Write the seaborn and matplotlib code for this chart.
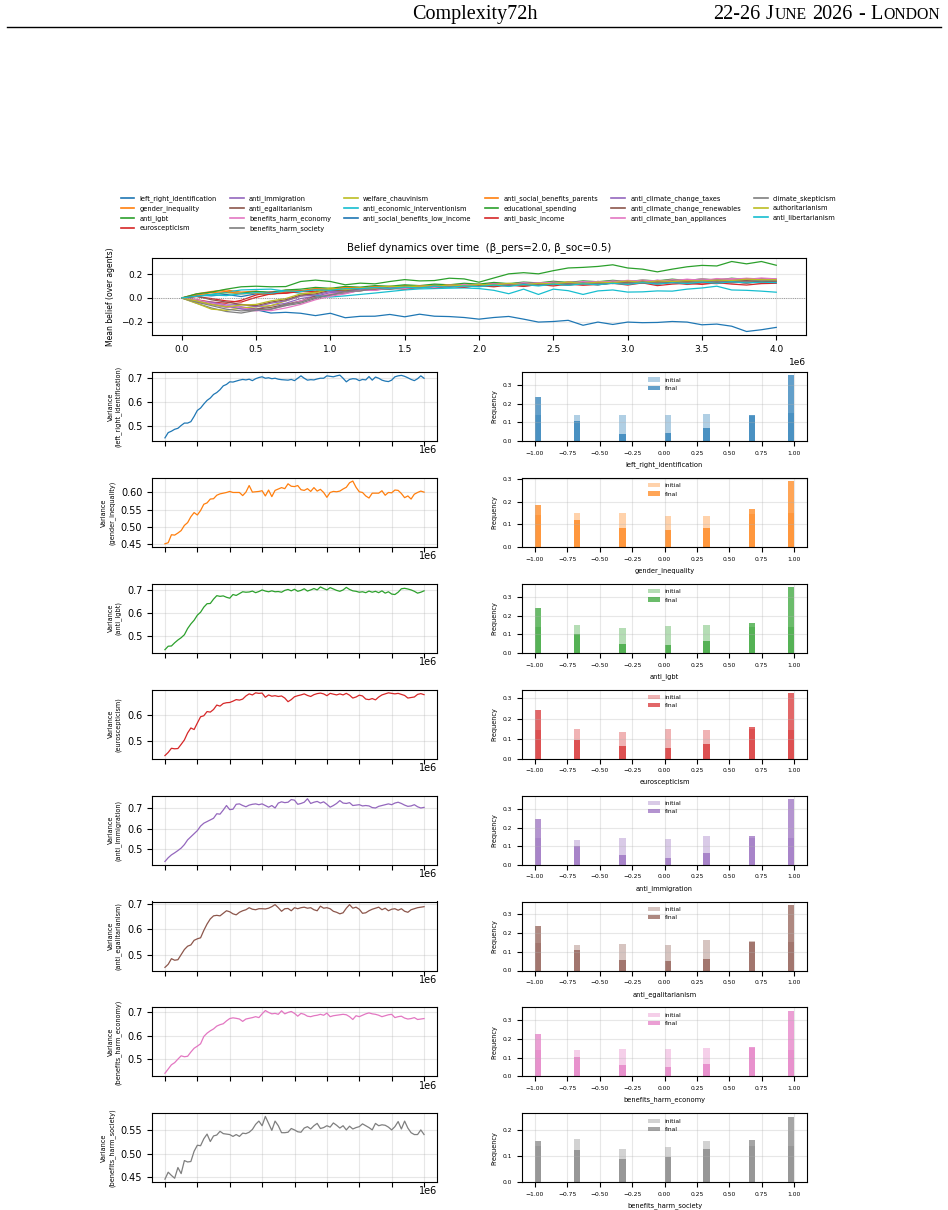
import numpy as np
import pandas as pd
import matplotlib
matplotlib.use("Agg")
import matplotlib.pyplot as plt
import matplotlib.ticker as mticker
from matplotlib.lines import Line2D
import seaborn as sns

# belief dimensions (order used by the legend / colour cycle)
belief_names = [
    "left_right_identification", "gender_inequality", "anti_lgbt", "euroscepticism",
    "anti_immigration", "anti_egalitarianism", "benefits_harm_economy", "benefits_harm_society",
    "welfare_chauvinism", "anti_economic_interventionism", "anti_social_benefits_low_income",
    "anti_social_benefits_parents", "educational_spending", "anti_basic_income",
    "anti_climate_change_taxes", "anti_climate_change_renewables", "anti_climate_ban_appliances",
    "climate_skepticism", "authoritarianism", "anti_libertarianism",
]

# mean belief over agents, sampled every 1e5 steps (0 .. 4e6)
t_mean = np.linspace(0, 4e6, 41)
mean_left_right = [0, 0.025, 0.018, 0.03, 0.012, 0.035, 0.03, 0.052, 0.06, 0.058, 0.075, 0.09, 0.078, 0.095, 0.088, 0.10, 0.092, 0.108, 0.104, 0.115, 0.108, 0.12, 0.112, 0.118, 0.128, 0.12, 0.132, 0.126, 0.138, 0.128, 0.142, 0.134, 0.145, 0.138, 0.15, 0.14, 0.155, 0.148, 0.16, 0.15, 0.145]
mean_gender = [0, 0.035, 0.055, 0.068, 0.05, 0.058, 0.04, 0.065, 0.062, 0.08, 0.072, 0.092, 0.08, 0.098, 0.092, 0.105, 0.095, 0.11, 0.1, 0.118, 0.108, 0.125, 0.11, 0.124, 0.118, 0.13, 0.122, 0.135, 0.12, 0.138, 0.128, 0.14, 0.13, 0.142, 0.128, 0.145, 0.132, 0.14, 0.128, 0.138, 0.134]
mean_lgbt = [0, 0.015, 0.03, 0.045, 0.04, 0.055, 0.05, 0.068, 0.075, 0.09, 0.082, 0.098, 0.092, 0.105, 0.1, 0.112, 0.105, 0.118, 0.112, 0.125, 0.118, 0.132, 0.122, 0.135, 0.128, 0.142, 0.132, 0.145, 0.138, 0.15, 0.14, 0.152, 0.145, 0.16, 0.148, 0.162, 0.152, 0.168, 0.158, 0.165, 0.16]
mean_euro = [0, -0.015, -0.035, -0.045, -0.02, 0.025, 0.05, 0.042, 0.06, 0.055, 0.075, 0.068, 0.085, 0.092, 0.08, 0.098, 0.09, 0.102, 0.095, 0.11, 0.098, 0.112, 0.102, 0.118, 0.108, 0.12, 0.11, 0.125, 0.112, 0.13, 0.118, 0.135, 0.12, 0.132, 0.115, 0.128, 0.122, 0.138, 0.126, 0.142, 0.134]
mean_immigration = [0, -0.035, -0.055, -0.08, -0.075, -0.095, -0.065, -0.045, -0.005, 0.015, 0.045, 0.052, 0.075, 0.07, 0.09, 0.085, 0.1, 0.092, 0.11, 0.098, 0.115, 0.108, 0.118, 0.112, 0.128, 0.118, 0.135, 0.128, 0.14, 0.13, 0.145, 0.135, 0.15, 0.138, 0.155, 0.142, 0.158, 0.148, 0.16, 0.15, 0.148]
mean_egal = [0, -0.025, -0.045, -0.07, -0.085, -0.095, -0.08, -0.055, -0.025, 0.015, 0.025, 0.055, 0.06, 0.08, 0.075, 0.095, 0.09, 0.105, 0.098, 0.11, 0.105, 0.12, 0.112, 0.122, 0.115, 0.13, 0.122, 0.132, 0.125, 0.14, 0.132, 0.142, 0.135, 0.15, 0.138, 0.148, 0.142, 0.155, 0.145, 0.16, 0.148]
mean_harm_econ = [0, -0.02, -0.055, -0.075, -0.095, -0.11, -0.095, -0.065, -0.025, 0.005, 0.035, 0.045, 0.065, 0.068, 0.085, 0.08, 0.095, 0.102, 0.098, 0.115, 0.108, 0.12, 0.115, 0.13, 0.122, 0.135, 0.128, 0.14, 0.132, 0.145, 0.138, 0.152, 0.142, 0.155, 0.148, 0.162, 0.152, 0.165, 0.158, 0.17, 0.162]
mean_harm_soc = [0, -0.045, -0.085, -0.115, -0.128, -0.105, -0.095, -0.065, -0.045, -0.005, 0.025, 0.04, 0.065, 0.068, 0.08, 0.075, 0.09, 0.085, 0.102, 0.092, 0.105, 0.1, 0.115, 0.102, 0.112, 0.12, 0.108, 0.125, 0.112, 0.128, 0.12, 0.13, 0.118, 0.135, 0.122, 0.132, 0.14, 0.128, 0.138, 0.125, 0.13]
mean_welfare = [0, -0.045, -0.095, -0.105, -0.085, -0.075, -0.065, -0.025, 0.015, 0.055, 0.085, 0.07, 0.085, 0.08, 0.095, 0.09, 0.105, 0.1, 0.108, 0.102, 0.112, 0.105, 0.12, 0.112, 0.118, 0.125, 0.115, 0.128, 0.122, 0.135, 0.128, 0.14, 0.132, 0.145, 0.135, 0.148, 0.14, 0.152, 0.145, 0.155, 0.15]
mean_econ_interv = [0.0, 0.02, 0.03, 0.05, 0.068, 0.072, 0.075, 0.058, 0.04, 0.02, 0.008, 0.018, 0.03, 0.042, 0.055, 0.068, 0.077, 0.08, 0.083, 0.085, 0.08, 0.065, 0.036, 0.075, 0.03, 0.075, 0.062, 0.03, 0.06, 0.068, 0.05, 0.052, 0.06, 0.058, 0.075, 0.085, 0.1, 0.068, 0.065, 0.058, 0.049]
mean_low_income = [0.0, -0.02, -0.045, -0.065, -0.09, -0.10, -0.128, -0.122, -0.13, -0.15, -0.13, -0.168, -0.156, -0.155, -0.14, -0.16, -0.138, -0.155, -0.158, -0.166, -0.18, -0.166, -0.157, -0.18, -0.205, -0.2, -0.19, -0.232, -0.205, -0.225, -0.205, -0.21, -0.208, -0.2, -0.205, -0.228, -0.222, -0.24, -0.285, -0.27, -0.25]
mean_parents = [0, 0.025, 0.045, 0.055, 0.035, 0.04, 0.03, 0.055, 0.058, 0.075, 0.07, 0.088, 0.082, 0.095, 0.09, 0.085, 0.102, 0.098, 0.112, 0.1, 0.115, 0.108, 0.122, 0.112, 0.125, 0.118, 0.135, 0.122, 0.138, 0.128, 0.135, 0.142, 0.13, 0.145, 0.138, 0.148, 0.14, 0.155, 0.142, 0.152, 0.145]
mean_education = [0.0, 0.035, 0.05, 0.075, 0.095, 0.10, 0.095, 0.097, 0.14, 0.152, 0.14, 0.112, 0.126, 0.12, 0.14, 0.156, 0.145, 0.148, 0.168, 0.162, 0.134, 0.17, 0.205, 0.215, 0.205, 0.232, 0.255, 0.26, 0.268, 0.282, 0.255, 0.245, 0.222, 0.245, 0.265, 0.277, 0.272, 0.31, 0.29, 0.31, 0.278]
mean_basic_income = [0, 0.012, -0.005, -0.025, -0.035, 0.005, 0.035, 0.04, 0.055, 0.05, 0.07, 0.065, 0.08, 0.072, 0.09, 0.078, 0.095, 0.088, 0.098, 0.092, 0.105, 0.095, 0.11, 0.098, 0.115, 0.102, 0.118, 0.108, 0.115, 0.125, 0.11, 0.128, 0.105, 0.118, 0.125, 0.115, 0.13, 0.118, 0.11, 0.122, 0.125]
mean_climate_taxes = [0, -0.025, -0.035, -0.06, -0.055, -0.075, -0.045, -0.025, 0.015, 0.025, 0.055, 0.058, 0.075, 0.078, 0.09, 0.085, 0.1, 0.095, 0.11, 0.102, 0.115, 0.108, 0.12, 0.115, 0.13, 0.118, 0.132, 0.125, 0.14, 0.128, 0.145, 0.138, 0.148, 0.14, 0.155, 0.148, 0.158, 0.15, 0.165, 0.152, 0.155]
mean_renewables = [0, 0.015, -0.015, -0.035, -0.055, -0.065, -0.035, -0.015, 0.025, 0.035, 0.065, 0.062, 0.08, 0.075, 0.09, 0.085, 0.1, 0.092, 0.108, 0.098, 0.112, 0.102, 0.115, 0.11, 0.125, 0.112, 0.125, 0.118, 0.135, 0.122, 0.135, 0.128, 0.138, 0.13, 0.145, 0.132, 0.145, 0.138, 0.148, 0.135, 0.14]
mean_appliances = [0, -0.015, -0.045, -0.065, -0.085, -0.1, -0.108, -0.085, -0.055, -0.015, 0.015, 0.035, 0.065, 0.065, 0.085, 0.08, 0.095, 0.09, 0.105, 0.1, 0.115, 0.108, 0.12, 0.115, 0.13, 0.125, 0.132, 0.128, 0.14, 0.135, 0.15, 0.138, 0.15, 0.145, 0.16, 0.148, 0.165, 0.158, 0.168, 0.16, 0.16]
mean_skepticism = [0, -0.035, -0.065, -0.095, -0.11, -0.1, -0.095, -0.055, -0.035, 0.005, 0.025, 0.055, 0.06, 0.08, 0.075, 0.09, 0.085, 0.1, 0.095, 0.105, 0.1, 0.115, 0.11, 0.118, 0.112, 0.125, 0.12, 0.128, 0.122, 0.132, 0.125, 0.14, 0.128, 0.145, 0.132, 0.145, 0.138, 0.148, 0.14, 0.152, 0.145]
mean_authoritarian = [0, -0.025, -0.055, -0.075, -0.06, -0.055, -0.025, -0.005, 0.035, 0.045, 0.075, 0.07, 0.085, 0.085, 0.1, 0.095, 0.1, 0.098, 0.11, 0.105, 0.115, 0.11, 0.125, 0.112, 0.125, 0.12, 0.135, 0.122, 0.135, 0.13, 0.145, 0.132, 0.145, 0.14, 0.148, 0.145, 0.152, 0.148, 0.16, 0.155, 0.155]
mean_libertarian = [0, 0.015, 0.025, 0.02, 0.035, 0.045, 0.04, 0.06, 0.055, 0.07, 0.065, 0.08, 0.078, 0.09, 0.082, 0.092, 0.085, 0.1, 0.09, 0.102, 0.095, 0.11, 0.098, 0.115, 0.102, 0.118, 0.108, 0.12, 0.112, 0.125, 0.115, 0.13, 0.118, 0.13, 0.122, 0.135, 0.125, 0.138, 0.128, 0.135, 0.13]

mean_series = [
    mean_left_right, mean_gender, mean_lgbt, mean_euro, mean_immigration, mean_egal,
    mean_harm_econ, mean_harm_soc, mean_welfare, mean_econ_interv, mean_low_income,
    mean_parents, mean_education, mean_basic_income, mean_climate_taxes, mean_renewables,
    mean_appliances, mean_skepticism, mean_authoritarian, mean_libertarian,
]

# variance of the first 8 beliefs, sampled every 5e4 steps
t_var = np.linspace(0, 4e6, 81)
var_left_right = [
    0.450, 0.472, 0.478, 0.486, 0.490, 0.502, 0.512, 0.512, 0.518, 0.540,
    0.565, 0.575, 0.592, 0.607, 0.617, 0.632, 0.640, 0.652, 0.668, 0.674,
    0.685, 0.684, 0.688, 0.692, 0.695, 0.693, 0.696, 0.690, 0.698, 0.703,
    0.706, 0.700, 0.702, 0.698, 0.700, 0.696, 0.694, 0.693, 0.692, 0.695,
    0.690, 0.700, 0.710, 0.700, 0.692, 0.694, 0.693, 0.697, 0.700, 0.700,
    0.710, 0.708, 0.706, 0.710, 0.713, 0.700, 0.685, 0.695, 0.698, 0.697,
    0.690, 0.695, 0.693, 0.707, 0.692, 0.705, 0.700, 0.692, 0.688, 0.686,
    0.692, 0.706, 0.710, 0.712, 0.708, 0.702, 0.695, 0.690, 0.698, 0.710,
    0.700]
var_gender = [
    0.452, 0.455, 0.478, 0.477, 0.483, 0.490, 0.505, 0.513, 0.530, 0.542,
    0.535, 0.548, 0.566, 0.570, 0.581, 0.582, 0.592, 0.596, 0.598, 0.600,
    0.603, 0.600, 0.600, 0.600, 0.591, 0.601, 0.620, 0.601, 0.602, 0.603,
    0.605, 0.590, 0.607, 0.588, 0.606, 0.610, 0.614, 0.611, 0.625, 0.618,
    0.617, 0.620, 0.608, 0.606, 0.611, 0.603, 0.614, 0.604, 0.609, 0.600,
    0.586, 0.600, 0.603, 0.602, 0.604, 0.610, 0.615, 0.628, 0.633, 0.615,
    0.602, 0.600, 0.590, 0.584, 0.598, 0.598, 0.598, 0.605, 0.592, 0.600,
    0.599, 0.607, 0.606, 0.597, 0.585, 0.590, 0.581, 0.595, 0.600, 0.604,
    0.601]
var_lgbt = [
    0.440, 0.455, 0.456, 0.470, 0.482, 0.492, 0.505, 0.532, 0.552, 0.568,
    0.590, 0.603, 0.625, 0.640, 0.641, 0.660, 0.675, 0.672, 0.674, 0.668,
    0.664, 0.680, 0.676, 0.684, 0.692, 0.690, 0.691, 0.695, 0.688, 0.693,
    0.700, 0.695, 0.692, 0.696, 0.692, 0.693, 0.690, 0.698, 0.702, 0.696,
    0.703, 0.694, 0.698, 0.705, 0.695, 0.700, 0.706, 0.700, 0.713, 0.706,
    0.700, 0.710, 0.704, 0.698, 0.694, 0.700, 0.711, 0.702, 0.696, 0.694,
    0.690, 0.692, 0.688, 0.695, 0.690, 0.694, 0.688, 0.696, 0.686, 0.692,
    0.682, 0.680, 0.690, 0.705, 0.707, 0.704, 0.700, 0.694, 0.686, 0.690,
    0.696]
var_euro = [
    0.443, 0.455, 0.471, 0.469, 0.470, 0.486, 0.503, 0.530, 0.549, 0.543,
    0.568, 0.592, 0.596, 0.612, 0.610, 0.620, 0.637, 0.633, 0.643, 0.646,
    0.647, 0.652, 0.658, 0.656, 0.660, 0.672, 0.680, 0.676, 0.684, 0.682,
    0.683, 0.667, 0.676, 0.671, 0.673, 0.670, 0.672, 0.664, 0.650, 0.658,
    0.669, 0.673, 0.676, 0.680, 0.674, 0.670, 0.677, 0.681, 0.683, 0.680,
    0.673, 0.682, 0.679, 0.676, 0.680, 0.676, 0.682, 0.675, 0.664, 0.668,
    0.675, 0.672, 0.660, 0.658, 0.662, 0.657, 0.668, 0.676, 0.680, 0.684,
    0.682, 0.680, 0.682, 0.678, 0.674, 0.664, 0.666, 0.668, 0.678, 0.681,
    0.677]
var_immigration = [
    0.440, 0.458, 0.472, 0.482, 0.493, 0.505, 0.522, 0.545, 0.560, 0.575,
    0.590, 0.612, 0.626, 0.634, 0.642, 0.650, 0.672, 0.670, 0.690, 0.712,
    0.692, 0.694, 0.718, 0.720, 0.712, 0.706, 0.714, 0.718, 0.720, 0.716,
    0.720, 0.712, 0.704, 0.712, 0.700, 0.724, 0.730, 0.726, 0.728, 0.741,
    0.738, 0.718, 0.722, 0.728, 0.745, 0.722, 0.728, 0.732, 0.724, 0.730,
    0.718, 0.704, 0.712, 0.722, 0.736, 0.724, 0.722, 0.726, 0.712, 0.714,
    0.716, 0.710, 0.712, 0.710, 0.702, 0.700, 0.708, 0.712, 0.716, 0.720,
    0.716, 0.724, 0.728, 0.722, 0.714, 0.708, 0.710, 0.716, 0.706, 0.700,
    0.703]
var_egal = [
    0.450, 0.462, 0.484, 0.478, 0.480, 0.500, 0.520, 0.533, 0.538, 0.556,
    0.562, 0.566, 0.595, 0.620, 0.640, 0.652, 0.654, 0.652, 0.662, 0.672,
    0.668, 0.660, 0.656, 0.666, 0.672, 0.676, 0.684, 0.678, 0.676, 0.680,
    0.680, 0.679, 0.682, 0.688, 0.696, 0.684, 0.670, 0.680, 0.681, 0.672,
    0.684, 0.680, 0.684, 0.686, 0.682, 0.684, 0.676, 0.672, 0.690, 0.682,
    0.684, 0.680, 0.670, 0.666, 0.660, 0.664, 0.682, 0.696, 0.682, 0.686,
    0.678, 0.662, 0.664, 0.672, 0.678, 0.682, 0.686, 0.676, 0.682, 0.672,
    0.678, 0.680, 0.674, 0.680, 0.670, 0.666, 0.676, 0.680, 0.684, 0.686,
    0.688]
var_harm_econ = [
    0.440, 0.458, 0.476, 0.485, 0.500, 0.514, 0.510, 0.512, 0.530, 0.546,
    0.555, 0.565, 0.596, 0.610, 0.620, 0.628, 0.640, 0.646, 0.650, 0.662,
    0.672, 0.675, 0.673, 0.670, 0.660, 0.670, 0.673, 0.676, 0.680, 0.676,
    0.692, 0.706, 0.698, 0.692, 0.694, 0.690, 0.705, 0.692, 0.698, 0.702,
    0.694, 0.682, 0.694, 0.690, 0.682, 0.680, 0.684, 0.686, 0.690, 0.686,
    0.695, 0.680, 0.684, 0.686, 0.688, 0.690, 0.688, 0.680, 0.668, 0.684,
    0.680, 0.686, 0.692, 0.696, 0.692, 0.690, 0.686, 0.680, 0.684, 0.688,
    0.690, 0.676, 0.680, 0.682, 0.674, 0.670, 0.672, 0.676, 0.668, 0.670,
    0.672]
var_harm_soc = [
    0.445, 0.460, 0.453, 0.447, 0.470, 0.457, 0.485, 0.482, 0.483, 0.505,
    0.518, 0.517, 0.532, 0.542, 0.526, 0.538, 0.540, 0.548, 0.543, 0.542,
    0.541, 0.537, 0.541, 0.537, 0.544, 0.543, 0.546, 0.552, 0.563, 0.570,
    0.560, 0.580, 0.565, 0.550, 0.570, 0.560, 0.545, 0.545, 0.546, 0.554,
    0.551, 0.547, 0.546, 0.555, 0.558, 0.553, 0.560, 0.565, 0.554, 0.556,
    0.560, 0.557, 0.566, 0.561, 0.555, 0.560, 0.551, 0.559, 0.553, 0.556,
    0.558, 0.564, 0.560, 0.556, 0.551, 0.565, 0.560, 0.562, 0.561, 0.557,
    0.551, 0.558, 0.569, 0.553, 0.570, 0.555, 0.545, 0.541, 0.541, 0.551,
    0.541]
var_series = [var_left_right, var_gender, var_lgbt, var_euro,
              var_immigration, var_egal, var_harm_econ, var_harm_soc]

# opinion distribution (fraction of agents per discrete opinion value)
opinion_values = [-1.0, -2 / 3, -1 / 3, 0.0, 1 / 3, 2 / 3, 1.0]
init_left_right = [0.140, 0.140, 0.138, 0.140, 0.145, 0.135, 0.150]
final_left_right = [0.240, 0.110, 0.040, 0.045, 0.070, 0.138, 0.355]
init_gender = [0.140, 0.148, 0.148, 0.135, 0.135, 0.145, 0.150]
final_gender = [0.187, 0.120, 0.082, 0.075, 0.082, 0.167, 0.290]
init_lgbt = [0.140, 0.152, 0.135, 0.147, 0.150, 0.140, 0.140]
final_lgbt = [0.240, 0.100, 0.050, 0.040, 0.062, 0.162, 0.355]
init_euro = [0.143, 0.148, 0.133, 0.148, 0.143, 0.150, 0.145]
final_euro = [0.240, 0.095, 0.062, 0.053, 0.072, 0.160, 0.327]
init_immigration = [0.145, 0.135, 0.145, 0.140, 0.152, 0.145, 0.143]
final_immigration = [0.245, 0.103, 0.053, 0.033, 0.065, 0.155, 0.355]
init_egal = [0.145, 0.138, 0.140, 0.138, 0.163, 0.155, 0.150]
final_egal = [0.235, 0.107, 0.057, 0.050, 0.063, 0.153, 0.350]
init_harm_econ = [0.140, 0.138, 0.145, 0.145, 0.150, 0.150, 0.140]
final_harm_econ = [0.225, 0.103, 0.060, 0.050, 0.068, 0.155, 0.350]
init_harm_soc = [0.140, 0.165, 0.125, 0.135, 0.158, 0.140, 0.140]
final_harm_soc = [0.158, 0.123, 0.087, 0.097, 0.125, 0.160, 0.250]
init_series = [init_left_right, init_gender, init_lgbt, init_euro,
               init_immigration, init_egal, init_harm_econ, init_harm_soc]
final_series = [final_left_right, final_gender, final_lgbt, final_euro,
                final_immigration, final_egal, final_harm_econ, final_harm_soc]

# ---- figure ----
W, H = 948, 1210
fig = plt.figure(figsize=(W / 100, H / 100), dpi=100)
tab10 = sns.color_palette("tab10")
palette = [tab10[i % 10] for i in range(len(belief_names))]


def box(left, top, width, height):
    # pixel box (from top-left) -> figure fraction
    return [left / W, 1 - (top + height) / H, width / W, height / H]


# page header (small caps done by hand)
serif = "Liberation Serif"
fig.text(475 / W, 1 - 19 / H, "Complexity72h", ha="center", va="baseline",
         fontsize=14.5, family=serif)
renderer = fig.canvas.get_renderer()
big, small = 14.5, 11.3
space_px = 0.25 * big * 100 / 72
# (text, size, space before it)
pieces = [("22-26", big, False), ("J", big, True), ("UNE", small, False),
          ("2026", big, True), ("-", big, True), ("L", big, True), ("ONDON", small, False)]
x_px = 940
for text, size, space_before in reversed(pieces):
    t = fig.text(x_px / W, 1 - 19 / H, text, ha="right", va="baseline",
                 fontsize=size, family=serif)
    x_px -= t.get_window_extent(renderer).width + 0.6
    if space_before:
        x_px -= space_px
fig.add_artist(Line2D([7 / W, 941 / W], [1 - 27 / H, 1 - 27 / H],
                      color="black", lw=1.0, transform=fig.transFigure))

# mean belief panel
ax_top = fig.add_axes(box(152, 258, 654, 77))
mean_df = pd.DataFrame({name: vals for name, vals in zip(belief_names, mean_series)})
mean_df["t"] = t_mean
mean_long = mean_df.melt(id_vars="t", var_name="belief", value_name="mean")
sns.lineplot(data=mean_long, x="t", y="mean", hue="belief", palette=palette,
             estimator=None, linewidth=0.9, legend=False, ax=ax_top)
ax_top.axhline(0, color="gray", lw=0.6, ls=":")
ax_top.grid(True, alpha=0.3)
ax_top.set_xlabel("")
ax_top.set_ylabel("Mean belief (over agents)", fontsize=5.5)
ax_top.set_title("Belief dynamics over time  (β_pers=2.0, β_soc=0.5)", fontsize=7.3)
ax_top.tick_params(labelsize=6.5)
ax_top.xaxis.get_offset_text().set_fontsize(6.5)

handles = [Line2D([], [], color=palette[i], lw=1.2) for i in range(len(belief_names))]
fig.legend(handles, belief_names, ncol=6, loc="upper center",
           bbox_to_anchor=(0.505, 1 - 189 / H), frameon=False, fontsize=4.8)

# variance + distribution rows
for i, name in enumerate(belief_names[:8]):
    top = 372 + 105.9 * i
    color = palette[i]

    ax_v = fig.add_axes(box(152, top, 285, 69))
    sns.lineplot(x=t_var, y=var_series[i], color=color, linewidth=0.9,
                 estimator=None, ax=ax_v)
    ax_v.grid(True, alpha=0.3)
    ax_v.set_ylabel(f"Variance\n({name})", fontsize=4.7)
    ax_v.tick_params(labelsize=7)
    ax_v.yaxis.set_major_locator(mticker.MaxNLocator(nbins=4, steps=[1, 2, 2.5, 5, 10]))
    plt.setp(ax_v.get_xticklabels(), visible=False)
    ax_v.xaxis.get_offset_text().set_fontsize(7)

    ax_h = fig.add_axes(box(522, top, 285, 69))
    sns.histplot(x=opinion_values, weights=init_series[i], bins=40, binrange=(-1, 1),
                 color=color, alpha=0.35, linewidth=0, label="initial", ax=ax_h)
    sns.histplot(x=opinion_values, weights=final_series[i], bins=40, binrange=(-1, 1),
                 color=color, alpha=0.7, linewidth=0, label="final", ax=ax_h)
    ax_h.grid(True, alpha=0.3)
    ax_h.set_xlabel(name, fontsize=4.8)
    ax_h.set_ylabel("Frequency", fontsize=4.7)
    ax_h.tick_params(labelsize=4.3)
    ax_h.legend(loc="upper center", frameon=False, fontsize=4.3)

fig.savefig("out.png", dpi=100)
